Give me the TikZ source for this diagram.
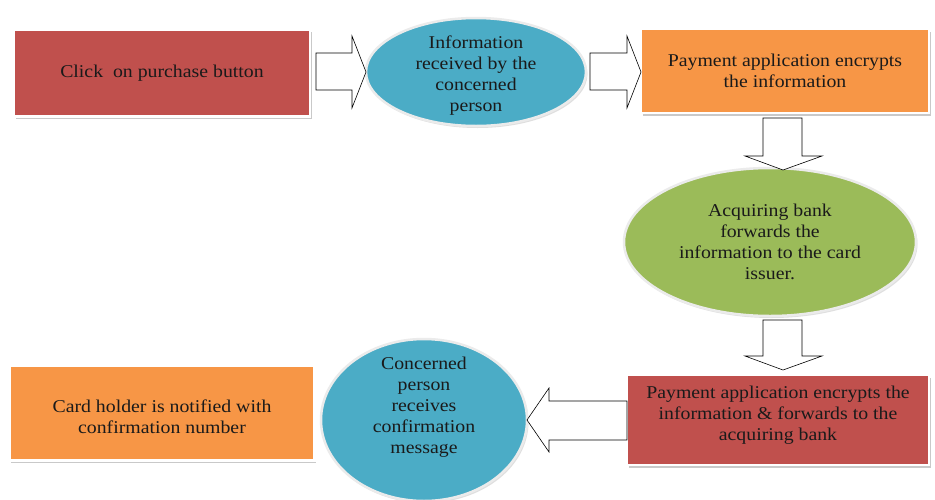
\documentclass[tikz,border=0pt]{standalone}
\usepackage{fontspec}
\setmainfont{Liberation Serif}[FakeStretch=1.1]
\usetikzlibrary{shapes.geometric,shadows}
\definecolor{cred}{HTML}{C0504D}
\definecolor{cblue}{HTML}{4BACC6}
\definecolor{corange}{HTML}{F79646}
\definecolor{cgreen}{HTML}{9BBB59}
\definecolor{ctext}{HTML}{1A1A1A}
\tikzset{
  txt/.style={align=center, text=ctext, font=\fontsize{18}{21}\selectfont},
  box/.style={rectangle, draw=white, line width=2.5pt, inner sep=0pt, txt,
    drop shadow={shadow xshift=1.5pt, shadow yshift=-2.5pt, opacity=0.35, fill=black!60}},
  oval/.style={ellipse, draw=white!92!black, line width=2.5pt, inner sep=0pt, txt,
    drop shadow={shadow xshift=1.5pt, shadow yshift=-2pt, opacity=0.25, fill=black!50}},
  blockarrow/.style={draw=black, fill=white, line width=0.6pt, line join=miter}
}
\begin{document}
\begin{tikzpicture}[x=1pt,y=-1pt]
\useasboundingbox (0,0) rectangle (935,499);
\fill[white] (0,0) rectangle (935,499);

\node[box, fill=cred, minimum width=296pt, minimum height=87pt] (b1) at (162,73) {Click~ on purchase button};
\node[oval, fill=cblue, minimum width=220pt, minimum height=108pt] (e1) at (476,72) {};
\node[txt] (e1t) at (476,76) {Information\\received by the\\concerned\\person};
\node[box, fill=corange, minimum width=288pt, minimum height=84pt] (b2) at (785,71) {Payment application encrypts\\the information};
\node[oval, fill=cgreen, minimum width=292pt, minimum height=148pt] (e2) at (770,242) {Acquiring bank\\forwards the\\information to the card\\issuer.};
\node[box, fill=cred, minimum width=302pt, minimum height=90pt] (b3) at (778,420) {};
\node[txt] (b3t) at (778,415) {Payment application encrypts the\\information \& forwards to the\\acquiring bank};
\node[oval, fill=cblue, minimum width=206pt, minimum height=162pt] (e3) at (424,420) {};
\node[txt] (e3t) at (424,407) {Concerned\\person\\receives\\confirmation\\message};
\node[box, fill=corange, minimum width=305pt, minimum height=95pt] (b4) at (162,413) {};
\node[txt] (b4t) at (162,417) {Card holder is notified with\\confirmation number};

% block arrows
\draw[blockarrow] (316,53) -- (352,53) -- (352,36) -- (366,72) -- (352,108) -- (352,90) -- (316,90) -- cycle;
\draw[blockarrow] (590,53) -- (627,53) -- (627,36) -- (641,72) -- (627,108) -- (627,90) -- (590,90) -- cycle;
\draw[blockarrow] (763,118) -- (802,118) -- (802,156) -- (822,156) -- (783,170) -- (745,156) -- (763,156) -- cycle;
\draw[blockarrow] (763,320) -- (802,320) -- (802,356) -- (822,356) -- (783,370) -- (745,356) -- (763,356) -- cycle;
\draw[blockarrow] (627,401) -- (549,401) -- (549,388) -- (527,420) -- (549,452) -- (549,440) -- (627,440) -- cycle;
\end{tikzpicture}
\end{document}
